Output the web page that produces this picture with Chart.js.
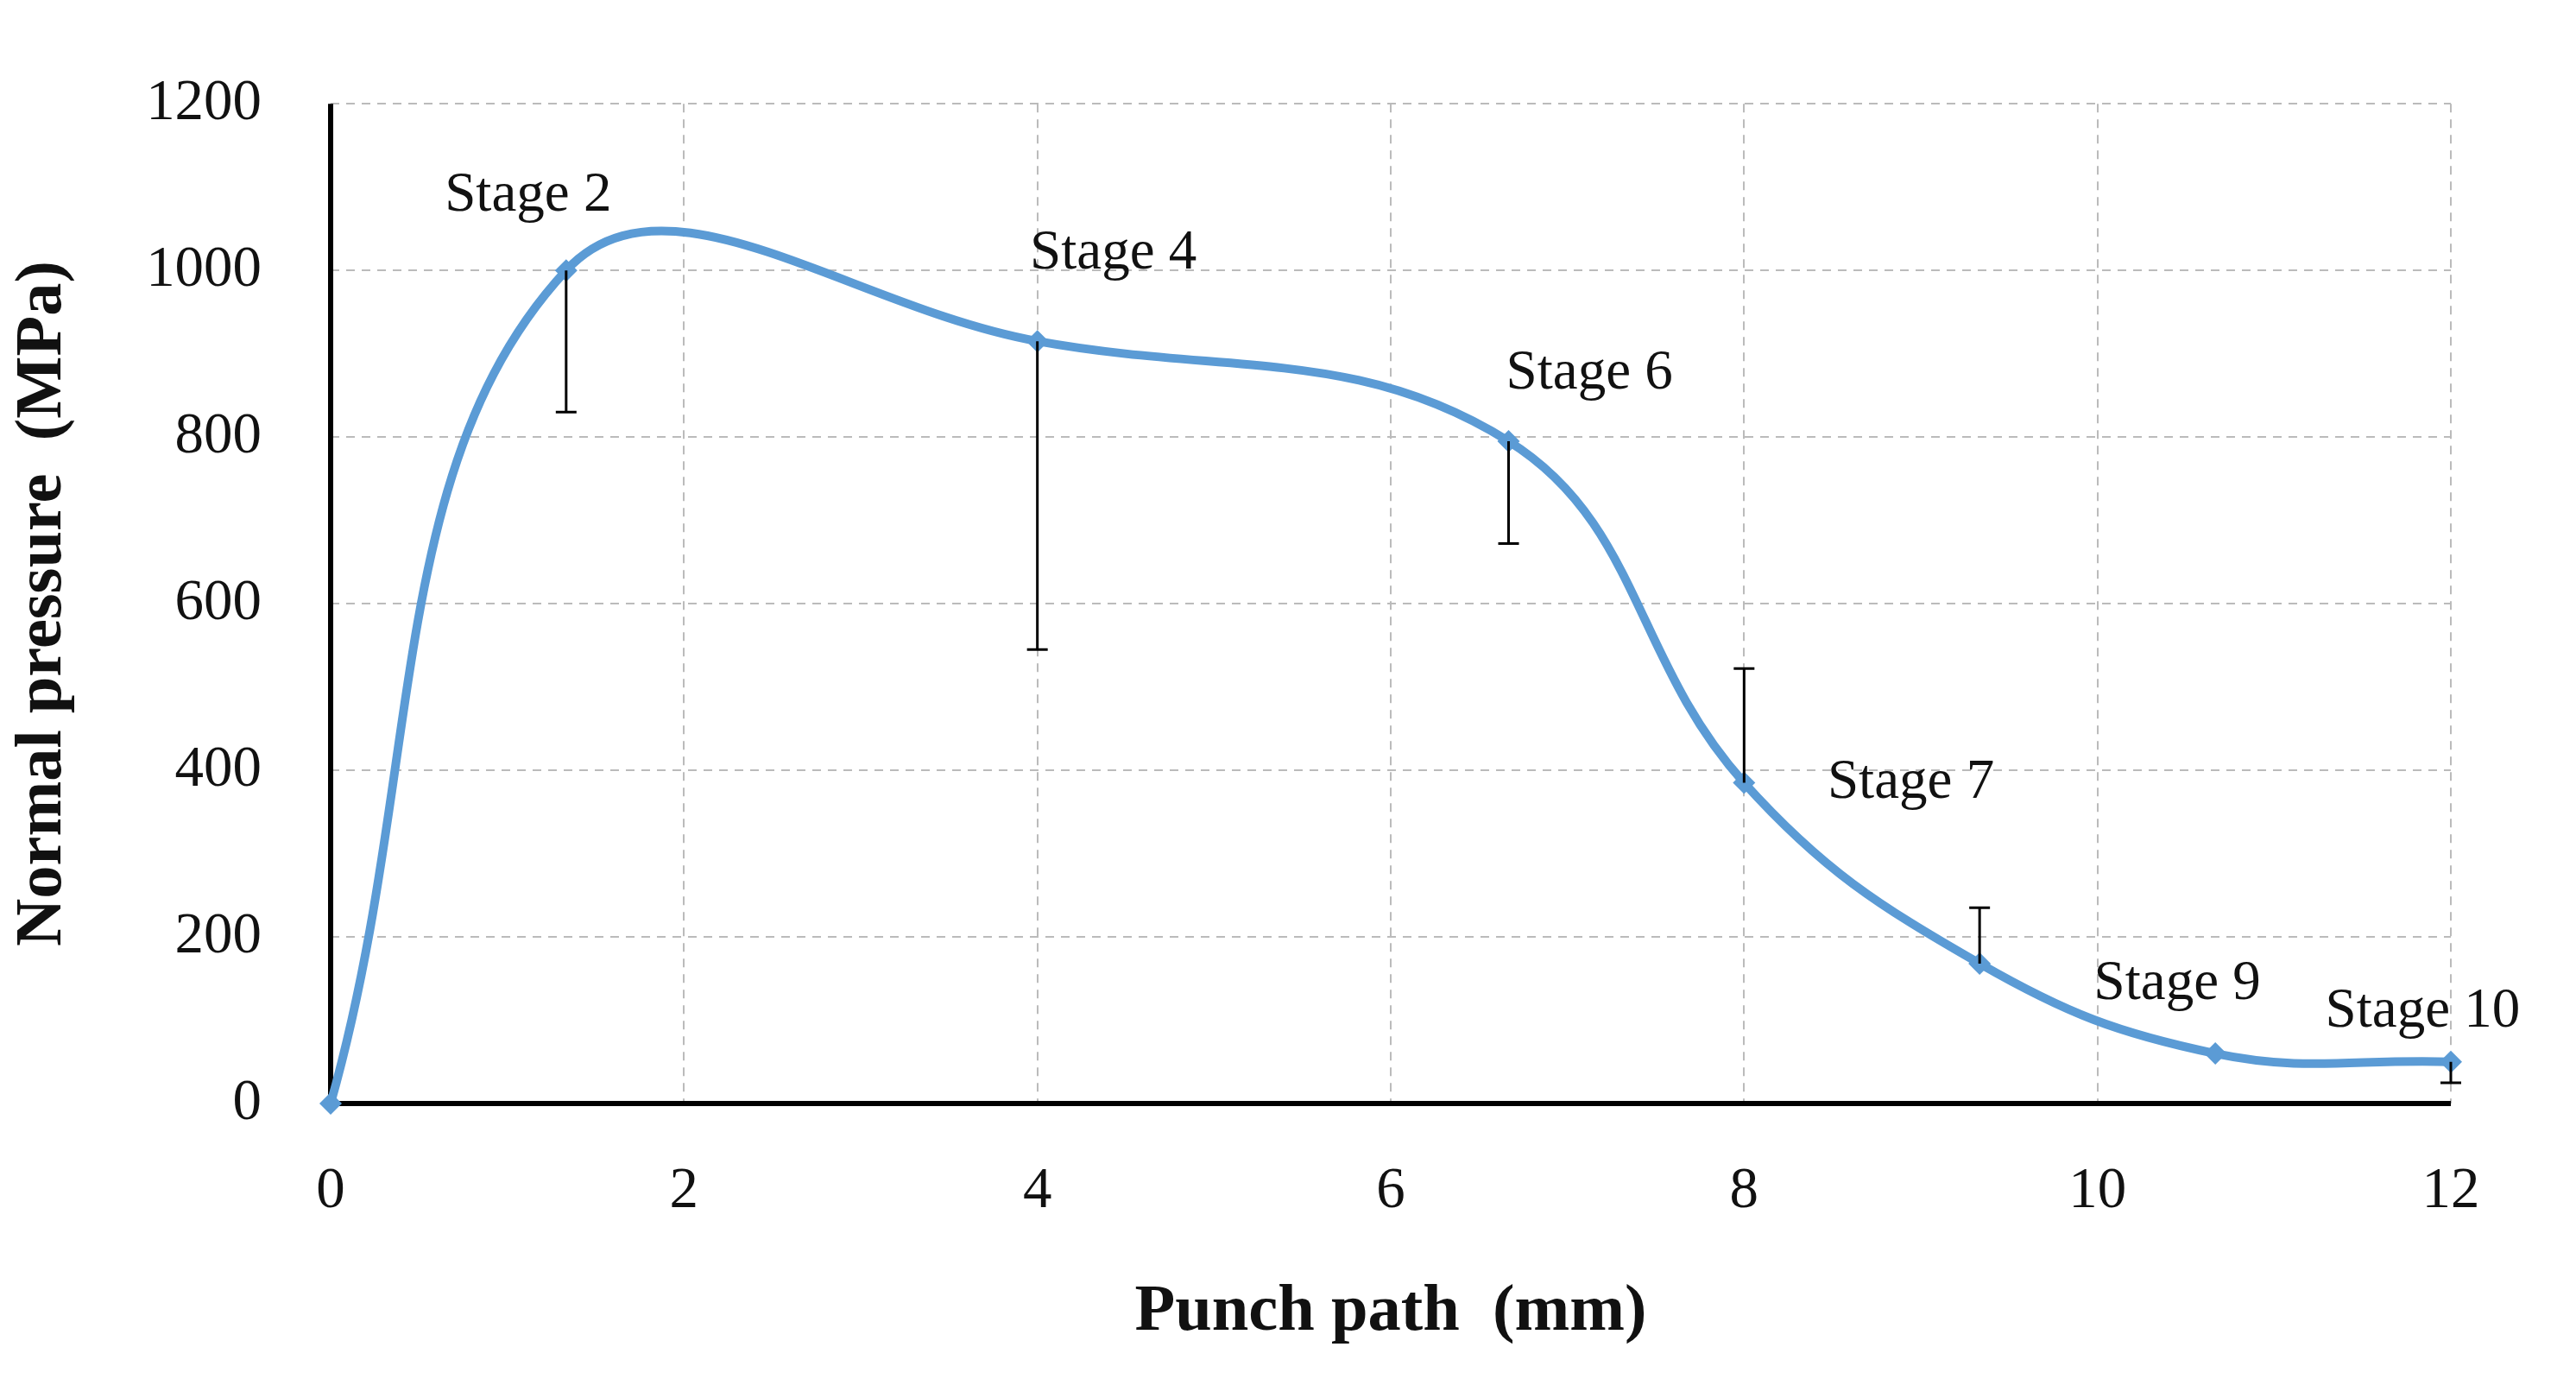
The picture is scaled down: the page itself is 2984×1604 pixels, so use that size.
<!DOCTYPE html>
<html>
<head>
<meta charset="utf-8">
<script src="https://cdn.jsdelivr.net/npm/chart.js@4/dist/chart.umd.min.js"></script>
<style>
  html, body { margin: 0; padding: 0; background: #fff; }
  #wrap { width: 2984px; height: 1604px; }
</style>
</head>
<body>
<div id="wrap"><canvas id="chart"></canvas></div>
<script>
// punch path (mm) and normal pressure (MPa)
const punchPath = [0, 1.333, 4, 6.667, 8, 9.333, 10.667, 12];
const pressure = [0, 1000, 915, 795, 385, 168, 60, 50];
// error bar end values (null = none)
const errorEnd = [null, 830, 545, 672, 522, 235, null, 25];
const stageLabels = [null, 'Stage 2', 'Stage 4', 'Stage 6', 'Stage 7', null, 'Stage 9', 'Stage 10'];

const S = 1.913;
const blue = '#5b9bd5';
const serif = "'Liberation Serif', 'DejaVu Serif', serif";

// label placement relative to point (display px, scaled)
const labelOffsets = [null, [-23, -45], [46, -53], [49, -41], [101, 0], null, [-23, -42], [-17, -30]];

const extras = {
    id: 'extras',
    beforeDatasetsDraw(chart) {
        const ctx = chart.ctx, a = chart.chartArea;
        ctx.save();
        ctx.strokeStyle = '#000';
        ctx.lineWidth = 6;
        ctx.beginPath();
        ctx.moveTo(a.left, a.top); ctx.lineTo(a.left, a.bottom); ctx.lineTo(a.right, a.bottom);
        ctx.stroke();
        ctx.restore();
    },
    afterDatasetsDraw(chart) {
        const ctx = chart.ctx;
        const xs = chart.scales.x, ys = chart.scales.y;
        ctx.save();
        ctx.strokeStyle = '#000';
        ctx.lineWidth = 3;
        errorEnd.forEach(function (e, i) {
            if (e === null) return;
            const px = xs.getPixelForValue(punchPath[i]);
            const p0 = ys.getPixelForValue(pressure[i]);
            const p1 = ys.getPixelForValue(e);
            ctx.beginPath();
            ctx.moveTo(px, p0); ctx.lineTo(px, p1);
            ctx.moveTo(px - 12, p1); ctx.lineTo(px + 12, p1);
            ctx.stroke();
        });
        ctx.fillStyle = '#111';
        ctx.font = (34 * S) + 'px ' + serif;
        ctx.textAlign = 'center';
        ctx.textBaseline = 'middle';
        stageLabels.forEach(function (t, i) {
            if (!t) return;
            const px = xs.getPixelForValue(punchPath[i]) + labelOffsets[i][0] * S;
            const py = ys.getPixelForValue(pressure[i]) + labelOffsets[i][1] * S;
            ctx.fillText(t, px, py);
        });
        ctx.restore();
    }
};

new Chart(document.getElementById('chart').getContext('2d'), {
    type: 'line',
    data: {
        datasets: [{
            data: punchPath.map(function (x, i) { return { x: x, y: pressure[i] }; }),
            borderColor: blue,
            backgroundColor: blue,
            borderWidth: 10,
            tension: 0.4,
            pointStyle: 'rectRot',
            pointRadius: 13,
            pointBorderWidth: 0,
            clip: false
        }]
    },
    options: {
        responsive: true,
        maintainAspectRatio: false,
        animation: false,
        layout: { padding: { top: 52, right: 145, left: 0, bottom: 34 } },
        plugins: { legend: { display: false }, tooltip: { enabled: false } },
        scales: {
            x: {
                type: 'linear', min: 0, max: 12,
                ticks: { stepSize: 2, color: '#111', padding: 62, font: { family: serif, size: 35 * S },
                    callback: function (v) { return String(v); } },
                grid: { color: '#bbb', lineWidth: 2, tickLength: 0 },
                border: { display: false, dash: [10, 8] },
                title: { display: true, text: 'Punch path  (mm)', color: '#111', padding: { top: 10 },
                    font: { family: serif, size: 40 * S, weight: 'bold' } },
                afterFit(axis) { axis.height = 292; }
            },
            y: {
                min: 0, max: 1200,
                ticks: { stepSize: 200, color: '#111', padding: 80, font: { family: serif, size: 35 * S },
                    callback: function (v) { return String(v); } },
                grid: { color: '#bbb', lineWidth: 2, tickLength: 0 },
                border: { display: false, dash: [10, 8] },
                title: { display: true, text: 'Normal pressure  (MPa)', color: '#111', padding: { bottom: 10 },
                    font: { family: serif, size: 40 * S, weight: 'bold' } },
                afterFit(axis) { axis.width = 383; }
            }
        }
    },
    plugins: [extras]
});
</script>
</body>
</html>
